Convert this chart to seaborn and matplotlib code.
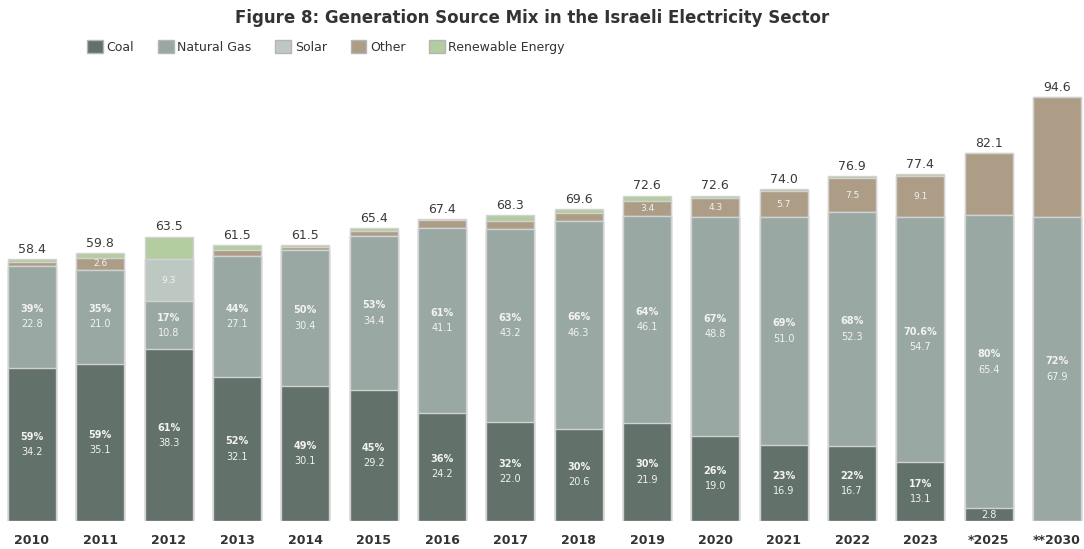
import numpy as np
import pandas as pd
import matplotlib
matplotlib.use("Agg")
import matplotlib.pyplot as plt
from matplotlib.patches import Patch
import seaborn as sns

# Generation by source (TWh) per year
years = ["2010", "2011", "2012", "2013", "2014", "2015", "2016", "2017", "2018",
         "2019", "2020", "2021", "2022", "2023", "*2025", "**2030"]
coal = [34.2, 35.1, 38.3, 32.1, 30.1, 29.2, 24.2, 22.0, 20.6, 21.9, 19.0, 16.9, 16.7, 13.1, 2.8, 0.0]
gas = [22.8, 21.0, 10.8, 27.1, 30.4, 34.4, 41.1, 43.2, 46.3, 46.1, 48.8, 51.0, 52.3, 54.7, 65.4, 67.9]
solar = [0.0, 0.0, 9.3, 0.0, 0.0, 0.0, 0.0, 0.0, 0.0, 0.0, 0.0, 0.0, 0.0, 0.0, 0.0, 0.0]
other = [0.9, 2.6, 0.0, 1.4, 0.7, 1.2, 1.8, 1.7, 1.8, 3.4, 4.3, 5.7, 7.5, 9.1, 13.9, 26.7]
renewable = [0.5, 1.1, 5.1, 0.9, 0.3, 0.6, 0.3, 1.4, 0.9, 1.2, 0.5, 0.4, 0.4, 0.5, 0.0, 0.0]
coal_pct = ["59%", "59%", "61%", "52%", "49%", "45%", "36%", "32%", "30%", "30%",
            "26%", "23%", "22%", "17%", "", ""]
gas_pct = ["39%", "35%", "17%", "44%", "50%", "53%", "61%", "63%", "66%", "64%",
           "67%", "69%", "68%", "70.6%", "80%", "72%"]
show_other = [False, True, False, False, False, False, False, False, False,
              True, True, True, True, True, False, False]

sources = ["Coal", "Natural Gas", "Solar", "Other", "Renewable Energy"]
colors = ["#627169", "#9aa8a3", "#bec8c3", "#ad9d87", "#b3cca0"]

df = pd.DataFrame({"year": years, "Coal": coal, "Natural Gas": gas, "Solar": solar,
                   "Other": other, "Renewable Energy": renewable})
cum = df[sources].cumsum(axis=1)
df["total"] = cum["Renewable Energy"]

sns.set_theme(style="white")
plt.rcParams["font.family"] = ["DejaVu Sans"]

fig = plt.figure(figsize=(10.84, 5.49), dpi=100)
ax = fig.add_axes([0.0, 28 / 549, 1.0, (521 - 60) / 549])

edge = "#d2d2d2"
bar_w = 0.7
# Stack by drawing cumulative heights from the top layer down
for src, col in reversed(list(zip(sources, colors))):
    sns.barplot(x=df["year"], y=cum[src], order=years, color=col, saturation=1,
                width=bar_w, edgecolor=edge, linewidth=1.0, errorbar=None, ax=ax)

txt_in = "#f2f2f2"
for i in range(len(years)):
    g0 = cum["Coal"].iloc[i]
    # coal
    if coal[i] > 0:
        mid = coal[i] / 2
        if coal_pct[i]:
            ax.annotate(coal_pct[i], (i, mid), xytext=(0, 5.5), textcoords="offset points",
                        ha="center", va="center", fontsize=7, fontweight="bold", color=txt_in)
            ax.annotate(f"{coal[i]:.1f}", (i, mid), xytext=(0, -5.5), textcoords="offset points",
                        ha="center", va="center", fontsize=7, color=txt_in)
        else:
            ax.text(i, mid, f"{coal[i]:.1f}", ha="center", va="center", fontsize=7, color=txt_in)
    # natural gas
    mid = g0 + gas[i] / 2
    ax.annotate(gas_pct[i], (i, mid), xytext=(0, 5.5), textcoords="offset points",
                ha="center", va="center", fontsize=7, fontweight="bold", color=txt_in)
    ax.annotate(f"{gas[i]:.1f}", (i, mid), xytext=(0, -5.5), textcoords="offset points",
                ha="center", va="center", fontsize=7, color=txt_in)
    # solar
    if solar[i] > 0:
        mid = cum["Natural Gas"].iloc[i] + solar[i] / 2
        ax.text(i, mid, f"{solar[i]:.1f}", ha="center", va="center", fontsize=6.5, color=txt_in)
    # other
    if show_other[i]:
        mid = cum["Solar"].iloc[i] + other[i] / 2
        ax.text(i, mid, f"{other[i]:.1f}", ha="center", va="center", fontsize=6.5, color=txt_in)
    # total
    ax.annotate(f"{df['total'].iloc[i]:.1f}", (i, df["total"].iloc[i]), xytext=(0, 2.5),
                textcoords="offset points", ha="center", va="bottom", fontsize=9, color="#3a3a3a")

ax.set_xlim(-0.468, 15.395)
ax.set_ylim(0, (521 - 60) / 4.48)
ax.set_xlabel("")
ax.set_ylabel("")
ax.set_yticks([])
sns.despine(ax=ax, left=True, bottom=True)
ax.tick_params(axis="x", length=0, pad=9)
for lab in ax.get_xticklabels():
    lab.set_fontweight("bold")
    lab.set_fontsize(9)
    lab.set_color("#333333")

fig.text(532 / 1084, 1 - 18 / 549, "Figure 8: Generation Source Mix in the Israeli Electricity Sector",
         ha="center", va="center", fontsize=12, fontweight="bold", color="#333333")

handles = [Patch(facecolor=c, edgecolor="#b5b5b5", linewidth=1.0, label=s) for s, c in zip(sources, colors)]
fig.legend(handles=handles, loc="center left", bbox_to_anchor=(76 / 1084, 1 - 47 / 549), ncol=5,
           frameon=False, fontsize=9, handlelength=1.25, handleheight=1.2, handletextpad=0.3,
           columnspacing=1.9, labelcolor="#333333")

fig.savefig("out.png", dpi=100, facecolor="white")
